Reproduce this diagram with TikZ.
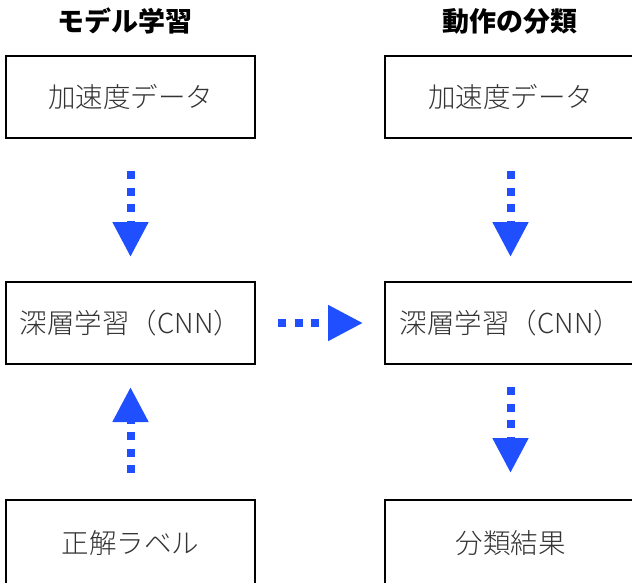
\documentclass[tikz,border=0pt]{standalone}
\usepackage{fontspec}
\setmainfont{Noto Sans CJK JP}
\IfFontExistsTF{Noto Sans CJK JP Light}{\newfontfamily\boxfont{Noto Sans CJK JP Light}}{\newfontfamily\boxfont{Noto Sans CJK JP}}
\usetikzlibrary{arrows.meta}
\definecolor{flowblue}{HTML}{1F4FFF}
\definecolor{boxtext}{HTML}{333333}
\begin{document}
\begin{tikzpicture}[x=1pt,y=-1pt,
  box/.style={draw=black, line width=2.6pt, minimum width=249pt, minimum height=82pt,
    inner sep=0pt, outer sep=0pt, font=\boxfont\fontsize{27.5}{33}\selectfont, text=boxtext, anchor=north west},
  lastbox/.style={box, minimum height=86pt},
  titletext/.style={font=\bfseries\fontsize{27}{32}\selectfont, text=black},
  flow/.style={draw=flowblue, line width=8pt, dash pattern=on 8pt off 8.5pt,
    -{Triangle[width=34pt,length=35pt]}}
]
\useasboundingbox (0,0) rectangle (632,582);
\clip (0,0) rectangle (632,582);
\node[titletext] (t1) at (125,21) {モデル学習};
\node[titletext] (t2) at (510,21) {動作の分類};
\node[box] (l1) at (6,56) {加速度データ};
\node[box] (l2) at (6,282) {深層学習（CNN）};
\node[lastbox] (l3) at (6,500) {正解ラベル};
\node[box, minimum width=251pt] (r1) at (385,56) {加速度データ};
\node[box, minimum width=251pt] (r2) at (385,282) {深層学習（CNN）};
\node[lastbox, minimum width=251pt] (r3) at (385,500) {分類結果};
\draw[flow, shorten <=33pt, shorten >=25pt] (l1.south) -- (l2.north);
\draw[flow, shorten <=27pt, shorten >=23pt] (l3.north) -- (l2.south);
\draw[flow, shorten <=33pt, shorten >=25pt] (r1.south) -- (r2.north);
\draw[flow, shorten <=23pt, shorten >=27pt] (r2.south) -- (r3.north);
\draw[flow, shorten <=23pt, shorten >=22pt] (l2.east) -- (r2.west);
\end{tikzpicture}
\end{document}
